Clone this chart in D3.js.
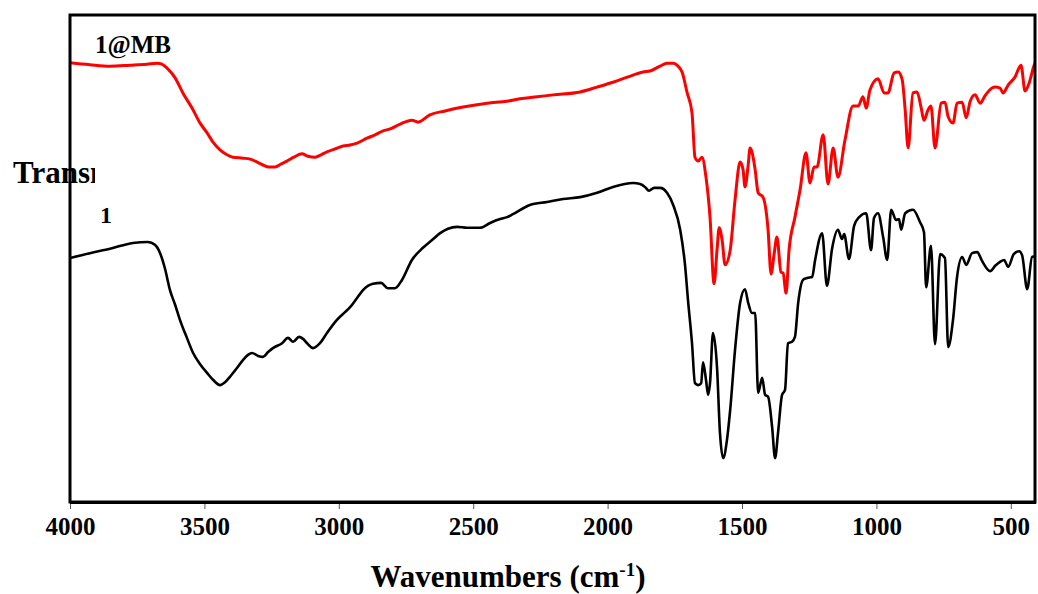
<!DOCTYPE html>
<html lang="en">
<head>
<meta charset="utf-8">
<title>FTIR spectra</title>
<script src="https://cdn.jsdelivr.net/npm/d3@7"></script>
<style>
  body { margin: 0; background: #fff; }
  svg text { font-family: "Liberation Serif", "Times New Roman", serif; font-weight: bold; fill: #000; }
</style>
</head>
<body>
<svg id="chart" width="1038" height="594"></svg>
<script type="text/javascript">

//////////////////////////////////////
// data (wavenumber in cm-1, transmittance in arbitrary %)
var xTicks = [4000, 3500, 3000, 2500, 2000, 1500, 1000, 500];
var seriesNames = ["1@MB", "1"];

var mbWavenumber = [4000,3926,3851,3777,3714,3676,3658,3639,3609,3580,3546,3516,3490,3468,3442,3416,3394,3356,3330,3304,
  3282,3260,3237,3215,3193,3167,3137,3115,3088,3066,3044,3014,2984,2958,2932,2895,2865,2835,2809,2772,
  2728,2705,2661,2605,2538,2448,2374,2326,2262,2203,2102,2039,1980,1924,1868,1842,1805,1779,1756,1738,
  1723,1704,1686,1675,1663,1649,1634,1619,1604,1593,1585,1574,1563,1544,1526,1507,1496,1489,1477,1470,
  1463,1451,1440,1422,1403,1392,1381,1370,1355,1347,1336,1325,1303,1284,1262,1247,1232,1221,1198,1180,
  1161,1143,1117,1087,1068,1050,1038,1024,994,971,957,934,919,904,893,882,864,849,834,823,
  808,797,782,759,745,733,715,700,681,666,651,633,614,596,570,558,540,529,510,484,
  462,447,432,413,402];
var mbTransmittance = [90.2,89.8,89.5,89.7,89.9,90.1,89.9,89.1,87.1,84.0,80.9,77.8,75.8,73.9,72.3,71.3,70.8,70.6,70.4,69.8,
  69.2,68.8,68.8,69.4,70.0,70.8,71.5,71.0,70.8,71.3,71.9,72.5,73.1,73.3,73.7,74.7,75.4,76.2,76.6,77.6,
  78.4,78.0,79.5,80.3,81.1,81.9,82.3,82.8,83.2,83.6,84.2,85.2,86.2,87.3,88.3,88.5,89.5,90.1,90.1,89.5,
  88.3,84.0,79.9,70.8,70.0,70.8,66.7,58.5,44.8,51.7,56.3,53.8,48.7,51.7,62.0,69.8,68.2,64.7,69.2,72.7,
  71.9,68.2,63.5,62.6,55.9,46.8,50.7,54.4,47.2,47.0,42.9,51.7,58.5,64.1,71.7,65.5,68.8,68.8,75.4,65.3,
  72.7,66.7,74.3,81.3,81.3,83.2,80.9,84.6,86.9,84.0,84.0,88.1,88.3,86.7,80.5,72.7,84.0,84.2,81.1,78.4,
  80.5,81.3,72.7,81.9,82.1,79.1,77.8,81.9,82.1,78.9,82.3,83.6,81.9,83.4,85.0,85.2,85.0,84.0,85.6,87.3,
  89.7,84.4,86.0,89.7,90.8];

var cpWavenumber = [4000,3926,3851,3766,3710,3684,3665,3647,3628,3609,3591,3565,3542,3516,3490,3468,3442,3423,3405,3379,
  3356,3338,3323,3300,3282,3263,3245,3211,3189,3170,3148,3133,3118,3096,3070,3044,3007,2977,2958,2932,
  2910,2873,2843,2817,2791,2765,2728,2687,2653,2623,2594,2560,2523,2475,2437,2400,2374,2352,2289,2225,
  2166,2102,2039,1980,1905,1879,1861,1846,1827,1805,1779,1756,1730,1712,1701,1686,1675,1663,1652,1645,
  1634,1626,1619,1608,1593,1582,1570,1556,1544,1526,1507,1489,1477,1463,1451,1440,1425,1414,1403,1388,
  1377,1366,1351,1340,1329,1314,1303,1291,1273,1258,1239,1228,1202,1184,1165,1143,1128,1120,1102,1083,
  1064,1038,1020,1009,994,975,960,945,927,916,908,893,864,838,823,815,797,782,763,745,
  733,715,700,681,666,644,625,607,577,558,540,525,510,489,469,458,439,421,402];
var cpTransmittance = [50.1,51.1,52.0,53.2,53.4,52.8,51.1,48.0,43.5,40.5,37.4,33.7,30.6,28.3,26.5,25.1,24.0,24.6,25.7,27.5,
  29.2,30.2,30.6,30.0,29.8,30.8,31.6,32.6,33.7,32.9,33.9,33.5,32.6,31.6,32.6,34.7,37.4,39.0,40.0,41.9,
  43.5,44.8,45.0,43.9,43.9,45.6,49.7,52.2,53.8,55.2,56.1,56.5,56.3,56.3,57.3,58.1,58.5,59.1,61.0,61.6,
  62.2,62.6,63.5,64.7,65.5,65.3,64.7,63.9,64.5,64.5,63.5,61.0,55.9,48.7,41.5,32.6,24.4,24.0,24.4,28.7,
  25.1,22.0,24.4,34.7,27.7,14.2,9.0,12.7,18.9,31.2,40.9,43.7,40.9,38.8,38.8,22.4,25.5,22.0,21.6,15.4,
  9.0,14.2,22.0,23.0,32.6,32.9,33.9,40.9,45.6,46.0,46.2,49.7,55.2,44.4,52.0,55.9,54.0,55.0,49.9,56.7,
  58.5,59.3,51.7,58.3,59.3,54.4,49.7,60.0,57.9,58.1,55.9,59.3,60.0,57.5,55.4,44.1,52.6,32.4,50.9,50.1,
  31.8,37.4,46.2,50.3,48.7,51.1,51.3,49.5,47.4,48.5,49.3,49.7,48.3,50.9,51.5,50.7,43.7,50.3,50.5];

var seriesColors = ["#ff0000", "#000000"];

//////////////////////////////////////
// canvas and scales
var svg = d3.select("#chart");
var plotLeft = 70, plotRight = 1035, plotTop = 15, plotBottom = 502;

var x = d3.scaleLinear().domain([4000, 410]).range([plotLeft, plotRight]);
var y = d3.scaleLinear().domain([0, 100]).range([plotBottom, plotTop]);

var defs = svg.append("defs");
defs.append("clipPath").attr("id", "plotclip")
  .append("rect").attr("x", plotLeft).attr("y", plotTop)
  .attr("width", plotRight - plotLeft).attr("height", plotBottom - plotTop);
defs.append("clipPath").attr("id", "labelclip")
  .append("rect").attr("x", 0).attr("y", 140).attr("width", 95).attr("height", 60);

//////////////////////////////////////
// spectra
var line = d3.line()
  .x(function(d) { return x(d[0]); })
  .y(function(d) { return y(d[1]); })
  .curve(d3.curveMonotoneX);

var series = [
  d3.zip(mbWavenumber, mbTransmittance),
  d3.zip(cpWavenumber, cpTransmittance)
];

svg.append("g").attr("clip-path", "url(#plotclip)")
  .selectAll("path").data(series).enter().append("path")
  .attr("d", line)
  .attr("fill", "none")
  .attr("stroke", function(d, i) { return seriesColors[i]; })
  .attr("stroke-width", function(d, i) { return i == 0 ? 3 : 2.6; })
  .attr("stroke-linejoin", "round");

// series labels
svg.append("text").attr("x", 95).attr("y", 53).style("font-size", "25px").text(seriesNames[0]);
svg.append("text").attr("x", 100).attr("y", 223).style("font-size", "24px").text(seriesNames[1]);

// y label, cut off like the original
svg.append("text").attr("x", 13).attr("y", 183)
  .attr("clip-path", "url(#labelclip)")
  .style("font-size", "31px").text("Transmittance");

//////////////////////////////////////
// x axis ticks (thin, below the frame)
var xAxis = d3.axisBottom(x).tickValues(xTicks).tickSize(6).tickPadding(9).tickFormat(d3.format("d"));
var gx = svg.append("g").attr("transform", "translate(0," + (plotBottom + 1) + ")").call(xAxis);
gx.select(".domain").remove();
gx.selectAll(".tick line").attr("stroke", "#555").attr("stroke-width", 1);
gx.selectAll(".tick text")
  .attr("font-family", null).attr("font-size", null)
  .style("font-size", "25px").attr("dy", null).attr("y", 32);

// frame
svg.append("rect").attr("x", plotLeft).attr("y", plotTop)
  .attr("width", plotRight - plotLeft).attr("height", plotBottom - plotTop)
  .attr("fill", "none").attr("stroke", "#000").attr("stroke-width", 3);
svg.append("line").attr("x1", plotLeft).attr("x2", plotRight + 1).attr("y1", plotBottom + 1).attr("y2", plotBottom + 1)
  .attr("stroke", "#000").attr("stroke-width", 2);

// x title
var title = svg.append("text").attr("x", 508).attr("y", 587)
  .attr("text-anchor", "middle").style("font-size", "31px");
title.append("tspan").text("Wavenumbers (cm");
title.append("tspan").attr("dy", -11).style("font-size", "19px").text("-1");
title.append("tspan").attr("dy", 11).text(")");

</script>
</body>
</html>
